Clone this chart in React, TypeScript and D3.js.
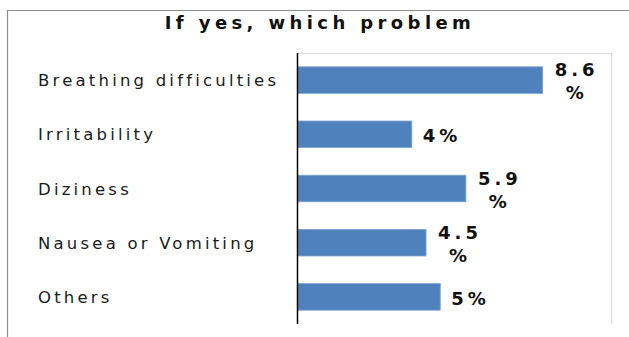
import React from "react";
import * as d3 from "d3";

const categories = ["Breathing difficulties", "Irritability", "Diziness", "Nausea or Vomiting", "Others"];
const values = [8.6, 4, 5.9, 4.5, 5];
const valueLabels = ["8.6%", "4%", "5.9%", "4.5%", "5%"];
const title = "If yes, which problem";

const W = 629;
const H = 337;
const plot = { left: 298, right: 611, top: 53, bottom: 324 };

export default function App() {
  const y = d3.scaleBand<string>().domain(categories).range([plot.top, plot.bottom]).paddingInner(0.51).paddingOuter(0.255);
  const x = d3.scaleLinear().domain([0, 11.0]).range([plot.left, plot.right]);
  const font = "'DejaVu Sans', sans-serif";
  return (
    <svg width={W} height={H} style={{ position: "absolute", left: 0, top: 0 }} fontFamily={font}>
      <rect x={0} y={0} width={W} height={H} fill="#fff" />
      <line x1={7} y1={10.5} x2={W} y2={10.5} stroke="#8c8c8c" strokeWidth={1.2} />
      <line x1={7.5} y1={10} x2={7.5} y2={H} stroke="#8c8c8c" strokeWidth={1.2} />
      <text x={320} y={29} textAnchor="middle" fontWeight="bold" fontSize={18} letterSpacing={4.4} fill="#111">{title}</text>
      <line x1={plot.left} y1={plot.top + 0.5} x2={plot.right} y2={plot.top + 0.5} stroke="#dcdcdc" />
      <line x1={plot.right + 0.5} y1={plot.top} x2={plot.right + 0.5} y2={plot.bottom} stroke="#dcdcdc" />
      {categories.map((c, i) => {
        const by = y(c)!;
        const bh = y.bandwidth();
        const cy = by + bh / 2;
        const xe = x(values[i]);
        const lbl = valueLabels[i];
        const wrap = lbl.includes(".");
        return (
          <g key={c}>
            <rect x={x(0)} y={by} width={xe - x(0)} height={bh} fill="#4F81BD" stroke="#7ea3d0" strokeWidth={0.8} />
            <text x={38} y={cy + 6} fontSize={16.5} letterSpacing={3.2} fill="#1a1a1a">{c}</text>
            {wrap ? (
              <text textAnchor="middle" fontWeight="bold" fontSize={18} letterSpacing={4} fill="#111">
                <tspan x={xe + 34} y={cy - 4}>{lbl.slice(0, -1)}</tspan>
                <tspan x={xe + 34} y={cy + 19}>%</tspan>
              </text>
            ) : (
              <text x={xe + 11} y={cy + 8} fontWeight="bold" fontSize={18} letterSpacing={4} fill="#111">{lbl}</text>
            )}
          </g>
        );
      })}
      <line x1={plot.left - 0.5} y1={plot.top} x2={plot.left - 0.5} y2={plot.bottom} stroke="#000" strokeWidth={1.5} />
    </svg>
  );
}
